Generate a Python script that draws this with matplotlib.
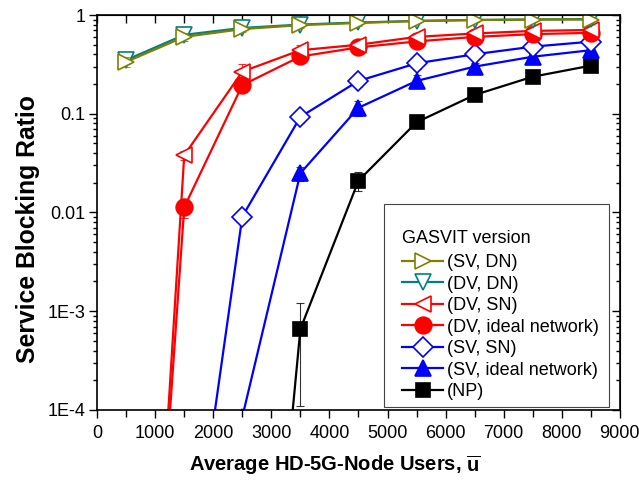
import numpy as np
import matplotlib
matplotlib.use("Agg")
import matplotlib.pyplot as plt
from matplotlib.patches import Rectangle
from matplotlib.ticker import FixedLocator, LogLocator, NullFormatter, MultipleLocator

plt.rcParams["font.family"] = ["Liberation Sans", "DejaVu Sans"]
plt.rcParams["mathtext.fontset"] = "custom"
plt.rcParams["mathtext.bf"] = "Liberation Sans:bold"
plt.rcParams["mathtext.rm"] = "Liberation Sans:bold"

# average users per HD-5G node
users = [500, 1500, 2500, 3500, 4500, 5500, 6500, 7500, 8500]

# service blocking ratio per GASVIT version
sv_dn = [0.335, 0.60, 0.72, 0.79, 0.83, 0.87, 0.89, 0.90, 0.90]
dv_dn = [0.35, 0.63, 0.74, 0.80, 0.84, 0.87, 0.89, 0.90, 0.91]
dv_sn = [1.4e-11, 0.038, 0.267, 0.44, 0.50, 0.60, 0.65, 0.69, 0.705]
dv_ideal = [4.4e-11, 0.0113, 0.195, 0.38, 0.47, 0.54, 0.60, 0.64, 0.66]
sv_sn = [1e-10, 6.2e-7, 0.0091, 0.093, 0.215, 0.324, 0.40, 0.478, 0.537]
sv_ideal = [1e-10, 1e-9, 8.5e-5, 0.025, 0.115, 0.215, 0.30, 0.378, 0.44]
np_base = [1e-12, 1e-11, 4.1e-10, 6.6e-4, 0.021, 0.082, 0.155, 0.237, 0.307]

# error bar half widths
sv_dn_err = [0.04, 0.06, 0.05, 0.05, 0.05, 0.04, 0.04, 0.04, 0.04]
dv_dn_err = [0.03, 0.05, 0.05, 0.04, 0.04, 0.04, 0.04, 0.03, 0.03]
dv_sn_err = [0, 0.004, 0.05, 0.06, 0.06, 0.06, 0.05, 0.05, 0.05]
dv_ideal_err = [0, 0.0025, 0.02, 0.03, 0.03, 0.03, 0.03, 0.03, 0.03]
sv_sn_err = [0, 0, 0.001, 0.012, 0.03, 0.04, 0.04, 0.05, 0.05]
sv_ideal_err = [0, 0, 0, 0.004, 0.02, 0.03, 0.03, 0.04, 0.04]
np_err = [0, 0, 0, 5.5e-4, 0.0045, 0.006, 0.008, 0.01, 0.01]

series = [
    ("(NP)", np_base, np_err, "black", "s", "black", 10),
    ("(SV, ideal network)", sv_ideal, sv_ideal_err, "#0000ff", "^", "#0000ff", 12),
    ("(SV, SN)", sv_sn, sv_sn_err, "#0000ff", "D", "white", 10),
    ("(DV, ideal network)", dv_ideal, dv_ideal_err, "#ff0000", "o", "#ff0000", 12),
    ("(DV, SN)", dv_sn, dv_sn_err, "#ff0000", "<", "white", 12),
    ("(DV, DN)", dv_dn, dv_dn_err, "#008080", "v", "white", 12),
    ("(SV, DN)", sv_dn, sv_dn_err, "#808000", ">", "white", 12),
]

fig = plt.figure(figsize=(6.39, 4.84), dpi=100)
ax = fig.add_axes([0.152, 0.153, 0.818, 0.816])

handles = {}
for label, vals, err, col, mk, face, ms in series:
    ax.errorbar(users, vals, yerr=err, fmt="none", ecolor=col, elinewidth=0.8,
                capsize=3, capthick=0.8, alpha=0.8)
    line, = ax.plot(users, vals, color=col, lw=1.6, marker=mk, ms=ms,
                    mfc=face, mec=col, mew=1.2, label=label)
    handles[label] = line

ax.set_yscale("log")
ax.set_xlim(0, 9000)
ax.set_ylim(1e-4, 1)

ax.xaxis.set_major_locator(MultipleLocator(1000))
ax.xaxis.set_minor_locator(MultipleLocator(500))
ax.yaxis.set_major_locator(FixedLocator([1e-4, 1e-3, 1e-2, 1e-1, 1]))
ax.set_yticklabels(["1E-4", "1E-3", "0.01", "0.1", "1"])
ax.yaxis.set_minor_locator(LogLocator(base=10, subs=np.arange(2, 10)))
ax.yaxis.set_minor_formatter(NullFormatter())
ax.tick_params(which="both", direction="out", labelsize=13, width=1)
ax.tick_params(which="major", length=5.5)
ax.tick_params(axis="x", which="minor", length=5)
ax.tick_params(axis="y", which="minor", length=3)
ax.tick_params(axis="x", pad=5)
ax.tick_params(axis="y", pad=3)

# mirrored ticks on top and right
top = ax.secondary_xaxis("top")
top.xaxis.set_major_locator(MultipleLocator(1000))
top.xaxis.set_minor_locator(MultipleLocator(500))
top.tick_params(which="both", direction="in", labeltop=False, width=1, length=5.5)
right = ax.secondary_yaxis("right")
right.set_yscale("log")
right.yaxis.set_major_locator(FixedLocator([1e-4, 1e-3, 1e-2, 1e-1, 1]))
right.yaxis.set_minor_locator(LogLocator(base=10, subs=np.arange(2, 10)))
right.tick_params(which="both", direction="in", labelright=False, width=1)
right.tick_params(which="major", length=5.5)
right.tick_params(which="minor", length=3)

for sp in ax.spines.values():
    sp.set_linewidth(1.2)

ax.set_xlabel(r"Average HD-5G-Node Users, $\mathbf{\overline{u}}$",
              fontsize=14.5, fontweight="bold")
ax.set_ylabel("Service Blocking Ratio", fontsize=17.8, fontweight="bold")
ax.xaxis.set_label_coords(0.455, -0.109)
ax.yaxis.set_label_coords(-0.109, 0.458)

# legend frame drawn separately so the entries sit with a wider left margin
frame = Rectangle((0.5488, 0.0076), 0.4302, 0.514, transform=ax.transAxes,
                  facecolor="white", edgecolor="#444444", lw=0.8, zorder=4.9)
ax.add_patch(frame)

order = ["(SV, DN)", "(DV, DN)", "(DV, SN)", "(DV, ideal network)",
         "(SV, SN)", "(SV, ideal network)", "(NP)"]
leg = ax.legend([handles[k] for k in order], order, title="GASVIT version",
                loc="upper left", bbox_to_anchor=(0.5832, 0.455),
                fontsize=13, title_fontsize=13, frameon=False,
                handlelength=2.3, handletextpad=0.2, labelspacing=0.25,
                borderpad=0, borderaxespad=0, alignment="left")
leg._legend_box.sep = 5

fig.savefig("out.png", dpi=100)
